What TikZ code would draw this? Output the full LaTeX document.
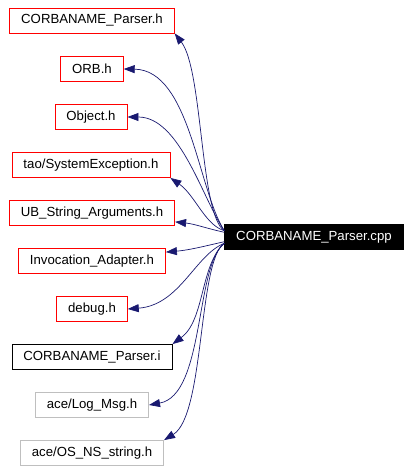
\documentclass[tikz,border=0pt]{standalone}
\usepackage{fontspec}
\setmainfont{Liberation Sans}
\usetikzlibrary{arrows.meta}
\definecolor{edgeblue}{RGB}{25,25,112}
\definecolor{lightgray}{RGB}{191,191,191}
\tikzset{
  incl/.style={draw=red,line width=0.8pt,inner xsep=11.5pt,inner ysep=0pt,
    minimum height=25pt,font=\fontsize{13.2}{15}\selectfont},
  plain/.style={incl,draw=black},
  extern/.style={incl,draw=lightgray},
  source/.style={incl,draw=black,fill=black,text=white},
  dep/.style={edgeblue,line width=0.7pt,-{Triangle[length=11pt,width=8pt]}}
}
\begin{document}
\begin{tikzpicture}[x=1pt,y=-1pt]
        \useasboundingbox (0,0) rectangle (412,471);
		\node[source] (cpp) at (314,237) {CORBANAME\_Parser.cpp};
		\node[incl] (hdr) at (92,20.5) {CORBANAME\_Parser.h};
		\node[incl] (orb) at (92,69) {ORB.h};
		\node[incl] (obj) at (91,117) {Object.h};
		\node[incl] (sysexc) at (91,165) {tao/SystemException.h};
		\node[incl] (ubargs) at (92,213) {UB\_String\_Arguments.h};
		\node[incl] (invad) at (92,261) {Invocation\_Adapter.h};
		\node[incl] (debug) at (92,309) {debug.h};
		\node[plain] (inl) at (92,357) {CORBANAME\_Parser.i};
		\node[extern] (logmsg) at (92,405) {ace/Log\_Msg.h};
		\node[extern] (osstr) at (92,453) {ace/OS\_NS\_string.h};
		\draw[dep] (cpp.176) .. controls (200,215) and (203,70) .. (hdr.south east);
		\draw[dep] (cpp.176) .. controls (198,190) and (190,70) .. (orb.east);
		\draw[dep] (cpp.176) .. controls (203,200) and (180,117) .. (obj.east);
		\draw[dep] (cpp.176) .. controls (205,225) and (195,195) .. (sysexc.south east);
		\draw[dep] (cpp.177) .. controls (205,228) and (195,224) .. ([yshift=4pt]ubargs.south east);
		\draw[dep] (cpp.183) .. controls (205,246) and (190,250) .. ([yshift=-4pt]invad.north east);
		\draw[dep] (cpp.184) .. controls (195,255) and (180,305) .. (debug.east);
		\draw[dep] (cpp.184) .. controls (200,265) and (205,320) .. (inl.north east);
		\draw[dep] (cpp.184) .. controls (195,265) and (205,395) .. (logmsg.east);
		\draw[dep] (cpp.184) .. controls (198,260) and (205,415) .. (osstr.north east);
\end{tikzpicture}
\end{document}
